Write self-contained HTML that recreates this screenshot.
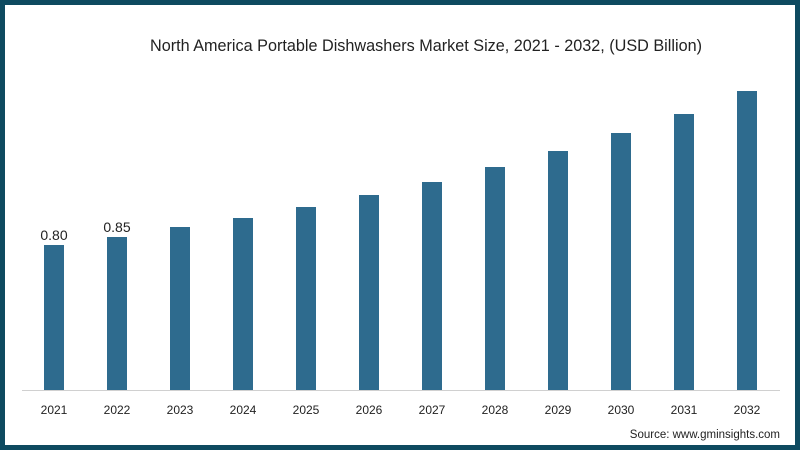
<!DOCTYPE html>
<html><head><style>html,body{margin:0;padding:0;background:#fff}</style></head>
<body>
<svg width="800" height="450" xmlns="http://www.w3.org/2000/svg" font-family="Liberation Sans, sans-serif">
<rect x="0" y="0" width="800" height="450" fill="#0e4a60"/>
<rect x="5" y="5" width="790" height="440" fill="#fff"/>
<text x="150" y="51" font-size="17" fill="#222" textLength="552" lengthAdjust="spacingAndGlyphs">North America Portable Dishwashers Market Size, 2021 - 2032, (USD Billion)</text>
<line x1="22" y1="390.5" x2="780" y2="390.5" stroke="#d0d0d0" stroke-width="1"/>
<g fill="#2e6b8e">
<rect x="44" y="245" width="20" height="145"/>
<rect x="107" y="237" width="20" height="153"/>
<rect x="170" y="227" width="20" height="163"/>
<rect x="233" y="218" width="20" height="172"/>
<rect x="296" y="207" width="20" height="183"/>
<rect x="359" y="195" width="20" height="195"/>
<rect x="422" y="182" width="20" height="208"/>
<rect x="485" y="167" width="20" height="223"/>
<rect x="548" y="151" width="20" height="239"/>
<rect x="611" y="133" width="20" height="257"/>
<rect x="674" y="114" width="20" height="276"/>
<rect x="737" y="91" width="20" height="299"/>
</g>
<g font-size="14" fill="#222" text-anchor="middle">
<text x="54" y="240">0.80</text>
<text x="117" y="232">0.85</text>
</g>
<g font-size="12" fill="#222" text-anchor="middle">
<text x="54" y="414">2021</text><text x="117" y="414">2022</text><text x="180" y="414">2023</text>
<text x="243" y="414">2024</text><text x="306" y="414">2025</text><text x="369" y="414">2026</text>
<text x="432" y="414">2027</text><text x="495" y="414">2028</text><text x="558" y="414">2029</text>
<text x="621" y="414">2030</text><text x="684" y="414">2031</text><text x="747" y="414">2032</text>
</g>
<text x="780" y="438" font-size="11.5" fill="#222" text-anchor="end">Source: www.gminsights.com</text>
</svg>
</body></html>
